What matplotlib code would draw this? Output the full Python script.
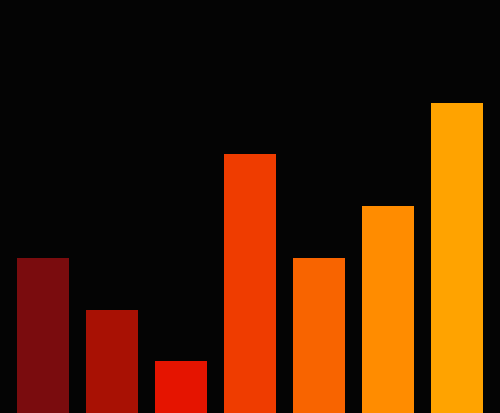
import matplotlib
matplotlib.use("Agg")
import matplotlib.pyplot as plt

categories = ["A", "B", "C", "D", "E", "F", "G"]
values = [3, 2, 1, 5, 3, 4, 6]
colors = ["#7a0c0e", "#a81104", "#e51400", "#ef3c00", "#f86400", "#ff8c00", "#ffa300"]

fig = plt.figure(figsize=(5.0, 4.14), dpi=100, facecolor="#040404")
ax = fig.add_axes([0, 0, 1, 1])
ax.set_facecolor("#040404")

x = list(range(len(categories)))
ax.bar(x, values, width=0.75, color=colors, linewidth=0)

ax.set_xlim(-0.625, len(categories) - 0.375)
ax.set_ylim(0, 8)
ax.axis("off")

fig.savefig("out.png", dpi=100, facecolor=fig.get_facecolor())
